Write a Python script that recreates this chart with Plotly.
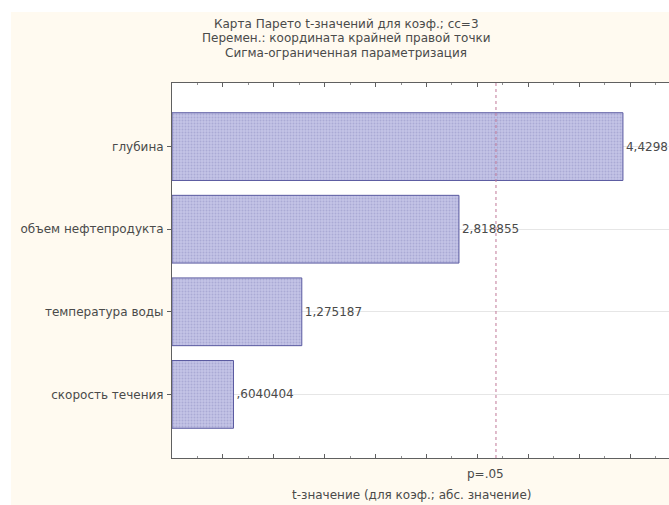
import plotly.graph_objects as go

# ---- data ----
factors = ["глубина", "объем нефтепродукта", "температура воды", "скорость течения"]
t_values = [4.4298, 2.818855, 1.275187, 0.6040404]
p_crit = 3.182446          # t critical for p=.05
p_label = "p=.05"
title_lines = ["Карта Парето t-значений для коэф.; cc=3",
               "Перемен.: координата крайней правой точки",
               "Сигма-ограниченная параметризация"]
x_title = "t-значение (для коэф.; абс. значение)"

def fmt(v):
    s = "%.7g" % v
    if s.startswith("0."):
        s = s[1:]
    return s.replace(".", ",")

labels = [fmt(v) for v in t_values]

W, H = 669, 505
L, R, T, B = 172, 0, 83, 47
pw, ph = W - L - R, H - T - B

def px(xp):
    return (xp - L) / pw

def py(yp):
    return (H - B - yp) / ph

FONT = "DejaVu Sans, Verdana, sans-serif"
FS = 12
TXT = "#4a4a4a"

fig = go.Figure()
fig.add_trace(go.Bar(
    x=t_values, y=factors, orientation="h", width=0.82,
    marker=dict(color="#bcbce0",
                line=dict(color="#5a5aa0", width=1),
                pattern=dict(shape=".", fgcolor="#8f8fc4", bgcolor="#c4c4e6",
                             size=3, solidity=0.35)),
    text=labels, textposition="outside",
    textfont=dict(family=FONT, size=FS, color=TXT),
    cliponaxis=True, showlegend=False,
))

# p=.05 line
fig.add_shape(type="line", xref="x", yref="paper", x0=p_crit, x1=p_crit, y0=0, y1=1,
              line=dict(color="#c07898", width=1, dash="dot"))

shapes_bg = [
    dict(type="rect", xref="paper", yref="paper", x0=px(0), x1=px(11), y0=py(505), y1=py(0),
         fillcolor="white", line=dict(width=0), layer="below"),
    dict(type="rect", xref="paper", yref="paper", x0=px(0), x1=px(669), y0=py(12), y1=py(0),
         fillcolor="white", line=dict(width=0), layer="below"),
]
for s in shapes_bg:
    fig.add_shape(**s)

ann = []
for i, line in enumerate(title_lines):
    ann.append(dict(text=line, xref="paper", yref="paper", x=px(346), y=py(24 + 14.5 * i),
                    xanchor="center", yanchor="middle", showarrow=False,
                    font=dict(family=FONT, size=FS, color=TXT)))
ann.append(dict(text=p_label, xref="paper", yref="paper", x=px(485), y=py(474),
                xanchor="center", yanchor="middle", showarrow=False,
                font=dict(family=FONT, size=FS, color=TXT)))
ann.append(dict(text=x_title, xref="paper", yref="paper", x=px(411), y=py(495),
                xanchor="center", yanchor="middle", showarrow=False,
                font=dict(family=FONT, size=FS, color=TXT)))

fig.update_layout(
    width=W, height=H,
    margin=dict(l=L, r=R, t=T, b=B, pad=0),
    paper_bgcolor="#fffaf0", plot_bgcolor="white",
    annotations=ann,
    xaxis=dict(range=[0, pw / 101.8], showgrid=False, zeroline=False,
               showline=True, linecolor="#606060", linewidth=1, mirror="allticks",
               ticks="inside", ticklen=4, tickcolor="#606060", dtick=0.5, tick0=0,
               showticklabels=False,
               minor=dict(ticks="inside", ticklen=2, dtick=0.25, tickcolor="#909090")),
    yaxis=dict(range=[3.77, -0.77], showgrid=True, gridcolor="#e6e6e6", gridwidth=1,
               zeroline=False, showline=True, linecolor="#606060", linewidth=1,
               ticks="outside", ticklen=4, tickcolor="#606060",
               tickfont=dict(family=FONT, size=FS, color=TXT), ticklabelstandoff=1),
)

fig.write_html("out.html")
